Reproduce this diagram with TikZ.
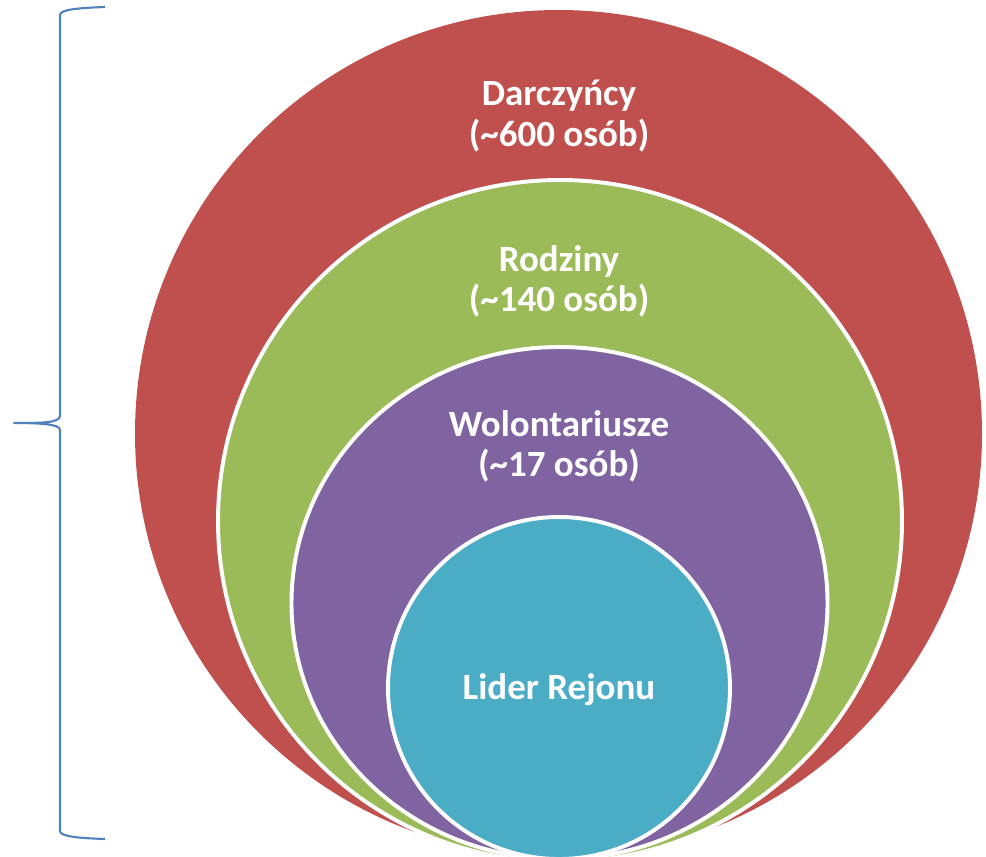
\documentclass[tikz,border=0pt]{standalone}
\usepackage{fontspec}
\setmainfont{Carlito}
\definecolor{darczred}{HTML}{C0504D}
\definecolor{rodzgreen}{HTML}{9BBB59}
\definecolor{wolonpurple}{HTML}{8064A2}
\definecolor{lidercyan}{HTML}{4BACC6}
\definecolor{braceblue}{HTML}{4F81BD}
\tikzset{
  ring/.style={draw=white, line width=2.8pt},
  lbl/.style={text=white, align=center, font=\fontsize{26.3}{28.5}\selectfont\bfseries}
}

\begin{document}
\begin{tikzpicture}[x=0.025cm,y=-0.025cm]
                \coordinate (TL) at (0,0);
                \coordinate (BR) at (986,856);
                \coordinate (Darcz) at (558.5,433.5);
                \coordinate (Rodz) at (560,521);
                \coordinate (Wolon) at (559.5,603);
                \coordinate (Lider) at (559,688);

                \useasboundingbox (TL) rectangle (BR);
                \clip (TL) rectangle (BR);
                \fill[darczred] (Darcz) ellipse [x radius=423.5, y radius=423.5]; % outer ring
                \filldraw[rodzgreen, ring] (Rodz) ellipse [x radius=342, y radius=341];
                \filldraw[wolonpurple, ring] (Wolon) ellipse [x radius=268, y radius=256];
                \filldraw[lidercyan, ring] (Lider) ellipse [x radius=171, y radius=171];

                \node[lbl] (darczynCy) at (559,116) {Darczyńcy\\(\textasciitilde600 osób)};
                \node[lbl] (rodziny) at (559,281) {Rodziny\\(\textasciitilde140 osób)};
                \node[lbl] (wolontariusze) at (559,446) {Wolontariusze\\(\textasciitilde17 osób)};
                \node[lbl] (lider) at (559,690) {Lider Rejonu};

                % brace
                \draw[braceblue, line width=1.5pt, line join=round]
                  (105,7) .. controls (75,8) and (60,10) .. (60,15)
                  -- (60,416) .. controls (60,423) and (40,423) .. (14,423)
                  .. controls (40,423) and (60,424) .. (60,430)
                  -- (60,831) .. controls (60,836) and (75,838) .. (105,839);
            \end{tikzpicture}
\end{document}
